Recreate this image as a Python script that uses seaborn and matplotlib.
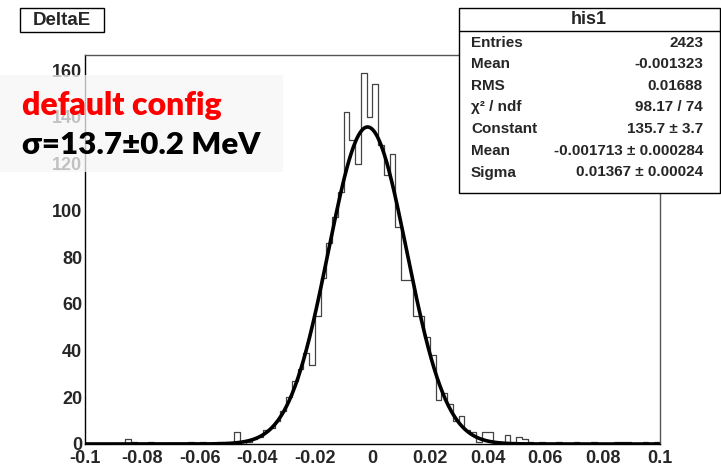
import numpy as np
import pandas as pd
import matplotlib
matplotlib.use("Agg")
import matplotlib.pyplot as plt
from matplotlib.patches import Rectangle
import seaborn as sns

# ---------------- data ----------------
x_min, x_max, n_bins = -0.1, 0.1, 100
counts = [0, 0, 0, 0, 0, 0, 0, 2, 1, 0,
          0, 1, 0, 0, 0, 0, 0, 0, 1, 0,
          1, 0, 0, 1, 0, 0, 5, 0, 1, 2,
          3, 6, 7, 10, 14, 20, 27, 32, 39, 34,
          55, 71, 86, 97, 108, 142, 130, 120, 159, 140,
          154, 128, 115, 124, 93, 70, 70, 55, 55, 46,
          38, 19, 22, 17, 10, 12, 6, 5, 1, 5,
          5, 1, 1, 4, 0, 3, 2, 1, 0, 1,
          0, 0, 1, 0, 0, 1, 0, 0, 1, 0,
          0, 0, 1, 1, 1, 0, 0, 1, 0, 1]
fit_constant, fit_mean, fit_sigma = 135.7, -0.001713, 0.01367
xtick_vals = [-0.1, -0.08, -0.06, -0.04, -0.02, 0, 0.02, 0.04, 0.06, 0.08, 0.1]
xtick_labels = ["-0.1", "-0.08", "-0.06", "-0.04", "-0.02", "0", "0.02", "0.04", "0.06", "0.08", "0.1"]
ytick_vals = [0, 20, 40, 60, 80, 100, 120, 140, 160]
stat_names = ["Entries", "Mean", "RMS", "\u03c7\u00b2 / ndf", "Constant", "Mean", "Sigma"]
stat_values = ["2423", "-0.001323", "0.01688", "98.17 / 74", "135.7 \u00b1 3.7",
               "-0.001713 \u00b1 0.000284", "0.01367 \u00b1 0.00024"]
hist_name = "his1"
title = "DeltaE"
note_red = "default config"
note_black = "\u03c3=13.7\u00b10.2 MeV"

# ---------------- figure ----------------
sns.set_style("white")
plt.rcParams['font.family'] = ['Liberation Sans', 'DejaVu Sans']
W, H = 721, 476
fig = plt.figure(figsize=(W / 100, H / 100), dpi=100)
fig.patch.set_facecolor("white")

def fx(px):
    return px / W

def fy(py):
    return 1 - py / H

ax = fig.add_axes([fx(85), fy(444), fx(660) - fx(85), fy(55) - fy(444)])

edges = [float(e) for e in np.linspace(x_min, x_max, n_bins + 1)]
centers = [(edges[i] + edges[i + 1]) / 2 for i in range(n_bins)]
df = pd.DataFrame({"x": centers, "w": counts})
sns.histplot(data=df, x="x", weights="w", bins=edges, element="step", fill=False,
             color="#444444", linewidth=0.9, ax=ax)

xs = np.linspace(x_min, x_max, 800)
ys = fit_constant * np.exp(-0.5 * ((xs - fit_mean) / fit_sigma) ** 2)
sns.lineplot(x=xs, y=ys, color="black", linewidth=2.6, ax=ax)

ax.set_xlim(x_min, x_max)
ax.set_ylim(0, 166.5)
ax.set_xlabel("")
ax.set_ylabel("")
ax.set_xticks(xtick_vals)
ax.set_xticklabels(xtick_labels)
ax.set_xticks(np.arange(-0.1, 0.1001, 0.005), minor=True)
ax.set_yticks(ytick_vals)
ax.set_yticklabels([str(v) for v in ytick_vals])
ax.set_yticks(np.arange(0, 166, 5), minor=True)

for lab in ax.get_xticklabels() + ax.get_yticklabels():
    lab.set_fontweight("bold")
    lab.set_fontsize(13)

ax.tick_params(axis="x", which="major", direction="in", length=8.6, width=0.8, pad=4, color="black")
ax.tick_params(axis="x", which="minor", direction="in", length=4.3, width=0.8, color="black")
ax.tick_params(axis="y", which="major", direction="in", length=12.2, width=0.8, pad=2, color="black")
ax.tick_params(axis="y", which="minor", direction="in", length=6.1, width=0.8, color="black")

for s in ["left", "bottom"]:
    ax.spines[s].set_color("black")
    ax.spines[s].set_linewidth(1.0)
for s in ["top", "right"]:
    ax.spines[s].set_color("#555555")
    ax.spines[s].set_linewidth(1.0)

# ---------------- title box ----------------
fig.add_artist(Rectangle((fx(20), fy(32)), fx(104) - fx(20), fy(8) - fy(32),
                         transform=fig.transFigure, facecolor="white",
                         edgecolor="black", linewidth=1.0, zorder=5))
fig.text(fx(62), fy(20.5), title, ha="center", va="center", fontsize=13.5,
         fontweight="bold", zorder=6)

# ---------------- stats box ----------------
fig.add_artist(Rectangle((fx(459), fy(193)), fx(719.5) - fx(459), fy(8) - fy(193),
                         transform=fig.transFigure, facecolor="white",
                         edgecolor="black", linewidth=1.0, zorder=5))
fig.add_artist(plt.Line2D([fx(459), fx(719.5)], [fy(31), fy(31)],
                          transform=fig.transFigure, color="black", linewidth=1.0, zorder=6))
fig.text(fx(589), fy(19.5), hist_name, ha="center", va="center", fontsize=13,
         fontweight="bold", zorder=6)
row_y = [42.7, 64.0, 85.7, 107.3, 129.0, 151.0, 172.5]
for name, val, yy in zip(stat_names, stat_values, row_y):
    fig.text(fx(471), fy(yy), name, ha="left", va="center", fontsize=11,
             fontweight="bold", zorder=6)
    fig.text(fx(703), fy(yy), val, ha="right", va="center", fontsize=11,
             fontweight="bold", zorder=6)

# ---------------- overlay note ----------------
fig.add_artist(Rectangle((fx(0), fy(172)), fx(283), fy(75) - fy(172),
                         transform=fig.transFigure, facecolor="#f6f6f6",
                         edgecolor="none", alpha=0.75, zorder=7))
fig.text(fx(22), fy(115), note_red, ha="left", va="baseline", fontsize=23,
         fontweight="heavy", color="#ff0000", family=["Lato", "DejaVu Sans"], zorder=8)
fig.text(fx(22), fy(154), note_black, ha="left", va="baseline", fontsize=22.5,
         fontweight="heavy", color="black", family=["Lato", "DejaVu Sans"], zorder=8)

fig.savefig("out.png", dpi=100, facecolor="white")
